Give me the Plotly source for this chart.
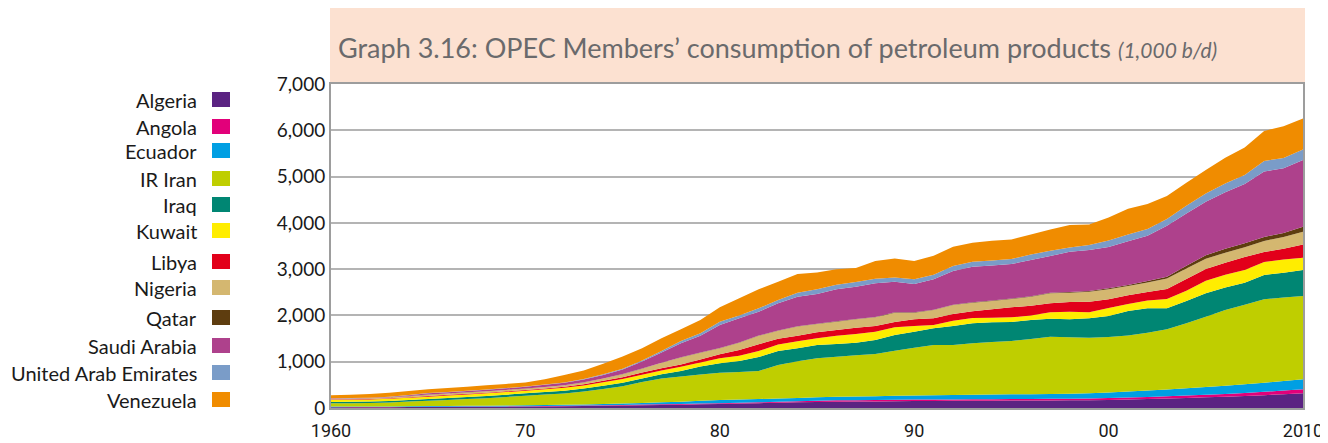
import plotly.graph_objects as go

years = list(range(1960, 2011))

countries = [
    "Algeria", "Angola", "Ecuador", "IR Iran", "Iraq", "Kuwait",
    "Libya", "Nigeria", "Qatar", "Saudi Arabia", "United Arab Emirates", "Venezuela",
]

colors = [
    "#5b2382", "#e2007a", "#009fe3", "#bfce00", "#008673", "#ffed00",
    "#e2001a", "#d4b770", "#5e3d0f", "#ae418c", "#7a9cc8", "#f08c00",
]

# 1,000 b/d, 1960 .. 2010
algeria = [15, 16, 17, 18, 20, 22, 23, 25, 26, 28,
           30, 33, 37, 42, 48, 55, 60, 66, 72, 79,
           86, 95, 104, 113, 122, 130, 137, 140, 143, 147,
           150, 152, 154, 156, 158, 160, 161, 163, 165, 168,
           175, 185, 195, 206, 218, 230, 245, 260, 278, 297, 317]
angola = [3, 3, 3, 4, 4, 4, 5, 5, 6, 7,
          8, 9, 10, 10, 11, 12, 13, 14, 15, 16,
          17, 18, 19, 21, 23, 25, 28, 29, 30, 31,
          31, 32, 32, 33, 33, 34, 34, 35, 36, 37,
          40, 42, 45, 48, 51, 55, 60, 66, 72, 80, 87]
ecuador = [12, 12, 13, 13, 14, 15, 16, 17, 18, 19,
           20, 22, 24, 26, 28, 31, 36, 42, 50, 60,
           68, 70, 71, 72, 73, 75, 78, 80, 83, 86,
           90, 92, 95, 97, 99, 101, 103, 106, 108, 112,
           120, 128, 137, 146, 156, 168, 178, 188, 198, 207, 216]
iran = [70, 72, 74, 85, 100, 117, 131, 145, 163, 184,
        208, 226, 244, 277, 323, 372, 451, 518, 543, 570,
        589, 597, 606, 724, 792, 843, 866, 888, 910, 974,
        1032, 1085, 1080, 1111, 1136, 1152, 1192, 1237, 1217, 1202,
        1200, 1214, 1250, 1299, 1404, 1520, 1634, 1718, 1799, 1806, 1799]
iraq = [30, 31, 31, 32, 34, 36, 40, 45, 47, 49,
        51, 55, 60, 65, 70, 75, 80, 90, 120, 170,
        205, 235, 300, 300, 280, 288, 273, 274, 303, 339,
        346, 360, 410, 432, 424, 410, 411, 388, 389, 418,
        455, 526, 526, 454, 482, 504, 489, 475, 526, 533, 562]
kuwait = [45, 46, 48, 49, 50, 51, 53, 55, 56, 57,
          57, 60, 62, 65, 75, 80, 80, 80, 90, 90,
          108, 115, 130, 140, 150, 144, 180, 187, 180, 165,
          122, 72, 115, 115, 101, 101, 100, 137, 166, 129,
          170, 151, 172, 201, 223, 273, 274, 274, 280, 288, 266]
libya = [7, 7, 7, 8, 12, 14, 16, 16, 16, 16,
         15, 17, 20, 27, 33, 40, 45, 50, 50, 65,
         86, 123, 150, 125, 120, 129, 123, 137, 122, 115,
         144, 144, 144, 144, 180, 216, 209, 195, 208, 231,
         190, 188, 181, 216, 252, 252, 259, 280, 216, 230, 288]
nigeria = [16, 16, 16, 18, 22, 29, 28, 28, 28, 29,
           29, 30, 33, 40, 47, 65, 85, 115, 150, 145,
           130, 158, 180, 175, 200, 180, 180, 180, 187, 202,
           145, 180, 195, 187, 180, 180, 195, 216, 202, 216,
           213, 201, 208, 230, 230, 225, 215, 210, 240, 255, 273]
qatar = [1, 1, 1, 1, 1, 2, 2, 2, 2, 2,
         3, 3, 3, 3, 4, 4, 5, 5, 5, 5,
         6, 6, 6, 6, 6, 6, 7, 7, 7, 7,
         8, 8, 8, 9, 9, 10, 11, 13, 15, 16,
         22, 22, 29, 37, 58, 72, 87, 86, 86, 87, 108]
saudi = [9, 9, 9, 12, 18, 27, 28, 28, 30, 34,
         40, 45, 52, 60, 76, 96, 150, 220, 305, 360,
         498, 520, 514, 585, 639, 642, 691, 699, 728, 663,
         610, 654, 726, 769, 761, 746, 781, 793, 871, 884,
         895, 943, 979, 1101, 1130, 1157, 1222, 1281, 1412, 1397, 1440]
uae = [2, 2, 2, 3, 5, 7, 6, 6, 6, 6,
       5, 6, 7, 10, 15, 20, 20, 30, 45, 55,
       72, 64, 73, 72, 86, 101, 101, 100, 100, 93,
       101, 101, 108, 108, 108, 108, 122, 115, 93, 108,
       140, 151, 144, 144, 166, 180, 187, 194, 230, 223, 231]
venezuela = [64, 73, 79, 87, 86, 79, 84, 89, 92, 89,
             86, 116, 160, 187, 225, 265, 264, 275, 254, 286,
             309, 368, 410, 396, 403, 367, 331, 303, 382, 410,
             396, 410, 418, 410, 425, 425, 432, 461, 483, 446,
             498, 554, 540, 497, 497, 504, 554, 598, 648, 684, 669]

series = [algeria, angola, ecuador, iran, iraq, kuwait,
          libya, nigeria, qatar, saudi, uae, venezuela]

year_ticks = [1960, 1970, 1980, 1990, 2000, 2010]
year_labels = ["1960", "70", "80", "90", "00", "2010"]

# the page body keeps its default 8px margin, so the figure starts at (8, 8)
OFF = 8
W, H = 1328 - OFF, 443 - OFF
ML, MR, MT, MB = 331 - OFF, 25, 84 - OFF, 35
PW, PH = W - ML - MR, H - MT - MB


def px_x(x):
    # page pixel -> paper fraction
    return (x - OFF - ML) / PW


def px_y(y):
    return 1 - (y - OFF - MT) / PH


fig = go.Figure()
for name, vals, col in zip(countries, series, colors):
    fig.add_trace(go.Scatter(
        x=years, y=vals, name=name, stackgroup="one", mode="none",
        fillcolor=col, line=dict(width=0), showlegend=False,
    ))

shapes = [
    # title band
    dict(type="rect", xref="paper", yref="paper", layer="below",
         x0=px_x(330), x1=px_x(1305), y0=px_y(84), y1=px_y(5),
         fillcolor="#fce1d1", line=dict(width=0)),
]
annotations = [
    dict(xref="paper", yref="paper", x=px_x(336), y=px_y(48),
         xanchor="left", yanchor="middle", showarrow=False,
         text="Graph 3.16: OPEC Members’ consumption of petroleum products "
              "<i><span style='font-size:21px'>(1,000 b/d)</span></i>",
         font=dict(family="Lato, sans-serif", size=27, color="#6a6a6c")),
]

# legend: label on the left, colour box on the right
legend_y = [100, 127, 151, 179, 205, 231, 262, 288, 318, 346, 373, 400]
for name, col, ly in zip(countries, colors, legend_y):
    annotations.append(dict(
        xref="paper", yref="paper", x=px_x(199), y=px_y(ly),
        xanchor="right", yanchor="middle", showarrow=False, text=name,
        font=dict(family="Lato, sans-serif", size=20, color="#1a1a1a")))
    shapes.append(dict(
        type="rect", xref="paper", yref="paper",
        x0=px_x(212), x1=px_x(230), y0=px_y(ly + 7), y1=px_y(ly - 8),
        fillcolor=col, line=dict(width=0)))

fig.update_layout(
    width=W, height=H,
    margin=dict(l=ML, r=MR, t=MT, b=MB, autoexpand=False),
    plot_bgcolor="white", paper_bgcolor="white",
    shapes=shapes, annotations=annotations,
    showlegend=False,
)

fig.update_xaxes(
    range=[1960, 2010], tickvals=year_ticks, ticktext=year_labels,
    showgrid=False, showline=True, linecolor="#9d9d9d", linewidth=2,
    mirror=True, ticks="", zeroline=False, automargin=False,
    ticklabelstandoff=5,
    tickfont=dict(family="Liberation Sans Narrow, Roboto, sans-serif", size=18, color="#1a1a1a"),
)
fig.update_yaxes(
    range=[0, 7000], dtick=1000, tickformat=",",
    showgrid=True, gridcolor="#b4b4b4", gridwidth=1.5,
    showline=True, linecolor="#9d9d9d", linewidth=2, mirror=True,
    ticks="", zeroline=False, automargin=False,
    tickfont=dict(family="Lato, sans-serif", size=19, color="#1a1a1a"),
)

fig.write_html("out.html")
